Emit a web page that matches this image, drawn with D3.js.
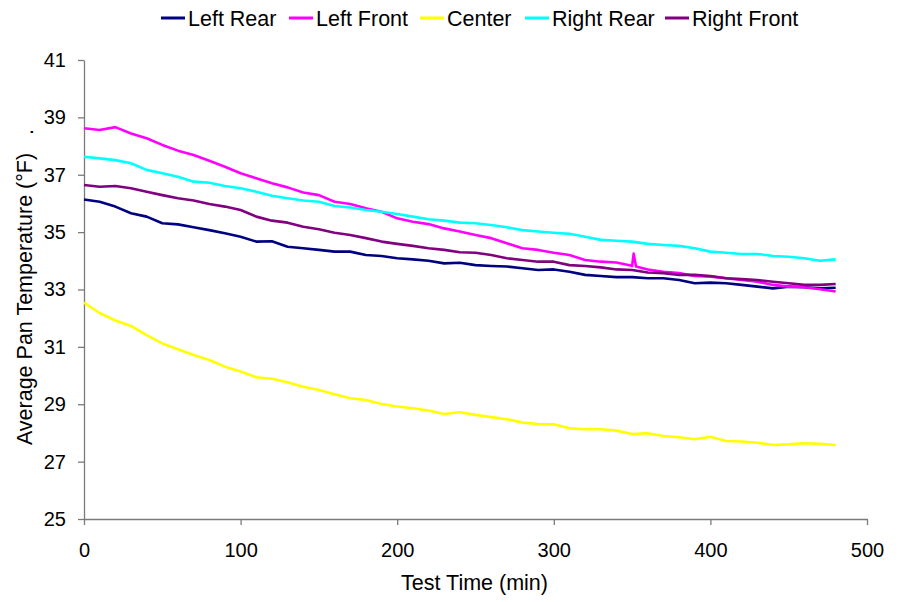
<!DOCTYPE html>
<html>
<head>
<meta charset="utf-8">
<script src="https://cdn.jsdelivr.net/npm/d3@7"></script>
<style>
  body { margin: 0; background: #fff; }
  text { font-family: "Liberation Sans", Arial, sans-serif; }
</style>
</head>
<body>
<script>
// series names, in legend order
var seriesNames = ["Left Rear", "Left Front", "Center", "Right Rear", "Right Front"];
var seriesColors = ["#000080", "#ff00ff", "#ffff00", "#00ffff", "#800080"];

// sample times (min), every 10 minutes
var minutes = [0, 10, 20, 30, 40, 50, 60, 70, 80, 90, 100, 110, 120, 130, 140, 150, 160, 170, 180, 190,
  200, 210, 220, 230, 240, 250, 260, 270, 280, 290, 300, 310, 320, 330, 340, 350, 360, 370, 380, 390,
  400, 410, 420, 430, 440, 450, 460, 470, 480];

var leftRear = [36.14, 36.06, 35.89, 35.66, 35.54, 35.31, 35.27, 35.17, 35.07, 34.96, 34.84, 34.67, 34.68,
  34.49, 34.44, 34.38, 34.32, 34.32, 34.20, 34.17, 34.09, 34.05, 34.00, 33.91, 33.93, 33.85, 33.82, 33.80,
  33.74, 33.68, 33.70, 33.62, 33.51, 33.47, 33.43, 33.43, 33.39, 33.39, 33.33, 33.22, 33.24, 33.22, 33.16,
  33.10, 33.04, 33.10, 33.08, 33.04, 33.06];
var leftFront = [38.62, 38.56, 38.66, 38.44, 38.27, 38.04, 37.84, 37.69, 37.49, 37.28, 37.05, 36.88, 36.70,
  36.56, 36.38, 36.29, 36.06, 35.98, 35.83, 35.71, 35.48, 35.36, 35.28, 35.13, 35.02, 34.90, 34.79, 34.61,
  34.44, 34.38, 34.28, 34.20, 34.03, 33.97, 33.94, 33.82, 33.70, 33.62, 33.57, 33.47, 33.45, 33.39, 33.33,
  33.27, 33.16, 33.10, 33.08, 33.01, 32.93];
// the short spike on Left Front near 351 min
var leftFrontSpike = [[349, 33.84], [351, 34.25], [352.5, 33.80]];
var center = [32.54, 32.18, 31.92, 31.73, 31.41, 31.12, 30.92, 30.72, 30.54, 30.31, 30.14, 29.94, 29.89,
  29.77, 29.61, 29.50, 29.35, 29.21, 29.15, 29.01, 28.92, 28.86, 28.78, 28.66, 28.72, 28.63, 28.55, 28.48,
  28.36, 28.31, 28.30, 28.16, 28.13, 28.13, 28.08, 27.96, 27.99, 27.89, 27.85, 27.78, 27.87, 27.72, 27.70,
  27.66, 27.58, 27.60, 27.64, 27.62, 27.58];
var rightRear = [37.63, 37.57, 37.51, 37.40, 37.17, 37.05, 36.93, 36.76, 36.72, 36.61, 36.53, 36.41, 36.27,
  36.18, 36.10, 36.06, 35.91, 35.86, 35.77, 35.71, 35.63, 35.54, 35.45, 35.40, 35.33, 35.31, 35.25, 35.17,
  35.07, 35.02, 34.98, 34.94, 34.84, 34.73, 34.70, 34.67, 34.59, 34.55, 34.52, 34.44, 34.32, 34.28, 34.24,
  34.24, 34.17, 34.14, 34.09, 34.00, 34.05];
var rightFront = [36.64, 36.58, 36.61, 36.53, 36.41, 36.29, 36.18, 36.10, 35.98, 35.89, 35.77, 35.54, 35.40,
  35.33, 35.19, 35.10, 34.98, 34.90, 34.79, 34.67, 34.59, 34.52, 34.44, 34.38, 34.30, 34.28, 34.20, 34.09,
  34.03, 33.97, 33.97, 33.85, 33.82, 33.77, 33.70, 33.68, 33.59, 33.57, 33.51, 33.51, 33.47, 33.39, 33.36,
  33.33, 33.27, 33.22, 33.16, 33.16, 33.19];

var xTicks = [0, 100, 200, 300, 400, 500];
var yTicks = [25, 27, 29, 31, 33, 35, 37, 39, 41];

var margin = {top: 60, right: 34, bottom: 83, left: 84},
    width = 901 - margin.left - margin.right,
    height = 602 - margin.top - margin.bottom;

var svg = d3.select("body").append("svg")
    .attr("width", 901)
    .attr("height", 602);

var g = svg.append("g")
    .attr("transform", "translate(" + margin.left + "," + margin.top + ")");

var x = d3.scaleLinear().domain([0, 500]).range([0, width]);
var y = d3.scaleLinear().domain([25, 41]).range([height, 0]);

function toPoints(values) {
  return values.map(function(v, i) { return [minutes[i], v]; });
}

var lfPoints = toPoints(leftFront).concat(leftFrontSpike)
  .sort(function(a, b) { return a[0] - b[0]; });

var series = [
  toPoints(leftRear), lfPoints, toPoints(center), toPoints(rightRear), toPoints(rightFront)
];

var line = d3.line()
    .x(function(d) { return x(d[0]); })
    .y(function(d) { return y(d[1]); });

// axes
var yAxis = g.append("g")
    .call(d3.axisLeft(y).tickValues(yTicks).tickSize(6).tickPadding(12).tickSizeOuter(0));
var xAxis = g.append("g")
    .attr("transform", "translate(0," + height + ")")
    .call(d3.axisBottom(x).tickValues(xTicks).tickSize(6).tickPadding(18).tickSizeOuter(0));

[xAxis, yAxis].forEach(function(a) {
  a.selectAll("path, line").attr("stroke", "#7a7a7a").attr("stroke-width", 1.3);
  a.selectAll("text").attr("fill", "#000").style("font-size", "20px")
    .style("font-family", "'Liberation Sans', Arial, sans-serif");
});

// lines
series.forEach(function(pts, i) {
  g.append("path")
    .attr("fill", "none")
    .attr("stroke", seriesColors[i])
    .attr("stroke-width", 2.6)
    .attr("stroke-linejoin", "round")
    .attr("d", line(pts));
});

// axis titles
svg.append("text")
  .attr("x", margin.left + x(250) - 1)
  .attr("y", 590)
  .attr("text-anchor", "middle")
  .style("font-size", "21.5px")
  .text("Test Time (min)");

svg.append("text")
  .attr("transform", "translate(32,299)rotate(-90)")
  .attr("text-anchor", "middle")
  .style("font-size", "21.5px")
  .text("Average Pan Temperature (°F)");

svg.append("text")
  .attr("transform", "translate(33,132)rotate(-90)")
  .attr("text-anchor", "middle")
  .style("font-size", "21.5px")
  .text(".");

// legend
var legendX = [161, 289, 420, 525, 665];
var legend = svg.append("g");
seriesNames.forEach(function(name, i) {
  legend.append("line")
    .attr("x1", legendX[i]).attr("x2", legendX[i] + 24)
    .attr("y1", 18).attr("y2", 18)
    .attr("stroke", seriesColors[i])
    .attr("stroke-width", 3);
  legend.append("text")
    .attr("x", legendX[i] + 27)
    .attr("y", 26)
    .style("font-size", "21.5px")
    .text(name);
});
</script>
</body>
</html>
